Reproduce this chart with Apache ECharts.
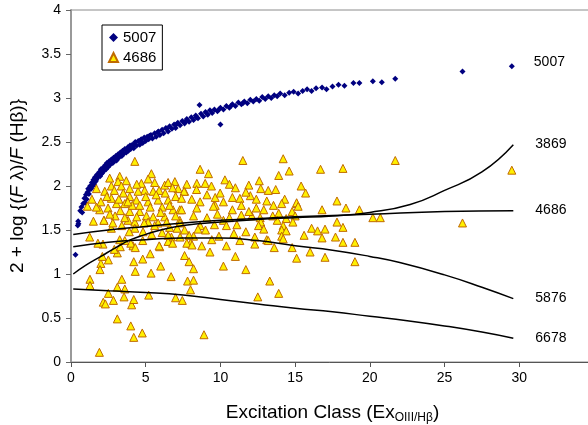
<!DOCTYPE html>
<html>
<head>
    <meta http-equiv="Content-Type" content="text/html; charset=utf-8"/>
    <style type="text/css">
        body, html {
            width: 100%;
            height: 100%;
            margin: 0;
            background: #fff;
        }
        #chart {
            width: 588px;
            height: 425px;
        }
    </style>
    <script src="https://cdn.jsdelivr.net/npm/echarts@6/dist/echarts.min.js"></script>
    <title>Excitation class</title>
</head>
<body>
<div id="chart"></div>
</body>
</html>
<script type="text/javascript">
    // x / y ticks
    var xTicks = [0, 5, 10, 15, 20, 25, 30, 35];
    var yTicks = [0, 0.5, 1, 1.5, 2, 2.5, 3, 3.5, 4];

    // [5007] points
    var pts5007 = [
        [0.3, 1.22], [0.45, 1.55], [0.48, 1.60], [0.5, 1.57], [0.62, 1.72], [0.7, 1.76], [0.75, 1.70], [0.82, 1.80],
        [0.9, 1.86], [0.95, 1.81], [1.0, 1.90], [1.05, 1.85], [1.1, 1.93], [1.15, 1.97], [1.2, 1.91], [1.28, 2.00],
        [1.35, 1.97], [1.4, 2.04], [1.45, 2.00], [1.5, 2.07], [1.55, 2.02], [1.6, 2.10], [1.7, 2.07], [1.75, 2.13],
        [1.8, 2.10], [1.9, 2.16], [1.95, 2.11], [2.0, 2.19], [2.1, 2.15], [2.15, 2.21], [2.2, 2.17], [2.3, 2.24],
        [2.35, 2.19], [2.4, 2.26], [2.5, 2.22], [2.55, 2.28], [2.6, 2.24], [2.7, 2.30], [2.8, 2.26], [2.85, 2.32],
        [2.9, 2.28], [3.0, 2.34], [3.05, 2.29], [3.15, 2.36], [3.2, 2.32], [3.3, 2.38], [3.4, 2.34], [3.45, 2.40],
        [3.5, 2.36], [3.6, 2.42], [3.7, 2.38], [3.8, 2.44], [3.85, 2.40], [3.95, 2.46], [4.0, 2.42], [4.1, 2.47],
        [4.2, 2.43], [4.3, 2.50], [4.4, 2.46], [4.5, 2.51], [4.6, 2.47], [4.7, 2.53], [4.8, 2.49], [4.9, 2.55],
        [5.0, 2.51], [5.1, 2.56], [5.2, 2.53], [5.35, 2.58], [5.45, 2.54], [5.6, 2.60], [5.7, 2.56], [5.85, 2.62],
        [5.95, 2.58], [6.1, 2.64], [6.2, 2.60], [6.35, 2.66], [6.5, 2.62], [6.6, 2.68], [6.75, 2.65], [6.9, 2.70],
        [7.0, 2.66], [7.15, 2.72], [7.3, 2.69], [7.45, 2.74], [7.6, 2.71], [7.75, 2.76], [7.9, 2.73], [8.05, 2.78],
        [8.2, 2.75], [8.35, 2.80], [8.5, 2.77], [8.6, 2.92], [8.7, 2.82], [8.85, 2.79], [9.0, 2.84], [9.15, 2.81],
        [9.3, 2.86], [9.45, 2.83], [9.6, 2.87], [9.8, 2.85], [10.0, 2.70], [10.0, 2.89], [10.2, 2.87], [10.4, 2.91],
        [10.6, 2.89], [10.8, 2.93], [11.0, 2.91], [11.2, 2.95], [11.4, 2.93], [11.6, 2.96], [11.8, 2.94], [12.0, 2.98],
        [12.2, 2.96], [12.4, 2.99], [12.6, 2.97], [12.8, 3.01], [13.0, 2.99], [13.2, 3.02], [13.4, 3.00], [13.6, 3.03],
        [13.8, 3.02], [14.0, 3.05], [14.3, 3.03], [14.6, 3.06], [14.9, 3.07], [15.2, 3.05], [15.5, 3.08], [15.8, 3.10],
        [16.1, 3.08], [16.4, 3.11], [16.8, 3.12], [17.1, 3.10], [17.5, 3.13], [17.9, 3.15], [18.3, 3.14], [18.9, 3.17],
        [19.3, 3.17], [20.2, 3.19], [20.8, 3.18], [21.7, 3.22], [26.2, 3.30],
        [1.25, 1.96], [1.65, 2.05], [2.05, 2.14], [2.45, 2.22], [2.95, 2.30], [3.35, 2.36], [3.75, 2.41], [4.25, 2.47],
        [4.65, 2.52], [5.25, 2.57], [5.8, 2.61], [6.4, 2.65], [7.05, 2.70], [7.7, 2.74], [8.4, 2.78], [9.1, 2.82],
        [9.9, 2.87], [10.7, 2.91], [11.5, 2.94]
    ];
    var last5007 = [29.5, 3.36];

    // [4686] points
    var pts4686 = [
        [4.27, 2.28], [5.38, 2.14], [3.26, 2.11], [2.59, 2.09], [3.15, 2.05], [2.7, 2.00], [3.37, 2.00], [1.7, 1.97],
        [2.26, 1.94], [3.93, 1.97], [4.71, 2.03], [5.16, 2.08], [5.6, 2.04], [4.93, 1.95], [5.5, 1.94], [4.49, 1.94],
        [6.27, 2.01], [6.5, 2.04], [6.95, 2.05], [7.17, 1.97], [7.6, 1.94], [6.5, 1.84], [5.83, 1.84], [5.16, 1.82],
        [4.38, 1.84], [3.93, 1.88], [3.6, 1.80], [3.04, 1.80], [2.7, 1.86], [2.48, 1.75], [1.92, 1.73], [1.1, 1.77],
        [2.21, 1.61], [3.93, 1.71], [4.6, 1.71], [5.05, 1.66], [5.5, 1.65], [6.27, 1.65], [6.83, 1.73], [7.28, 1.73],
        [3.82, 1.61], [4.27, 1.59], [5.16, 1.59], [5.83, 1.58], [7.28, 1.61], [2.7, 1.52], [4.27, 1.52], [4.82, 1.48],
        [1.25, 1.42], [2.14, 1.34], [3.26, 1.39], [4.15, 1.32], [5.94, 1.31], [6.72, 1.42], [6.5, 1.37], [1.7, 1.76],
        [3.5, 1.92], [4.1, 1.78], [5.9, 1.95], [6.1, 1.76], [2.95, 1.66], [3.4, 1.55], [6.6, 1.53], [7.0, 1.88],
        [1.9, 0.11], [1.27, 0.94], [1.27, 0.87], [2.16, 0.68], [2.3, 0.66], [2.84, 0.70], [3.1, 0.85], [2.5, 0.78],
        [3.4, 0.94], [3.55, 0.74], [3.6, 0.83], [4.06, 0.65], [4.2, 0.71], [3.1, 0.49], [4.0, 0.41], [4.2, 0.28],
        [4.77, 0.33], [5.2, 0.76], [7.45, 0.70], [4.2, 1.14], [4.3, 1.03], [4.8, 1.17], [5.36, 1.01], [6.0, 1.09],
        [6.7, 0.97], [5.3, 1.23], [5.9, 1.32], [7.6, 1.21], [7.9, 1.14], [8.2, 1.06], [7.8, 0.92], [8.2, 0.93],
        [8.0, 0.82], [2.0, 1.12], [1.94, 1.05], [2.1, 1.20], [2.5, 1.16], [3.1, 1.24], [2.9, 1.28], [3.3, 1.31],
        [1.8, 1.35], [4.0, 1.35], [4.3, 1.30], [3.6, 1.38], [4.8, 1.38], [6.5, 1.44], [6.8, 1.35], [7.3, 1.42],
        [8.2, 1.43], [8.0, 1.35], [2.2, 1.61], [11.5, 2.29], [14.2, 2.31], [8.64, 2.19], [9.2, 2.14], [13.9, 2.12],
        [14.6, 2.17], [7.75, 2.02], [8.42, 2.03], [8.98, 2.03], [10.3, 2.07], [11.0, 1.98], [11.9, 2.01], [12.7, 1.97],
        [13.2, 1.95], [13.7, 1.96], [7.57, 1.94], [8.4, 1.96], [9.1, 1.90], [9.65, 1.87], [9.98, 1.92], [10.8, 1.87],
        [11.3, 1.86], [12.0, 1.89], [12.4, 1.85], [14.3, 1.85], [15.1, 1.80], [8.08, 1.85], [8.64, 1.82], [10.2, 1.82],
        [9.65, 1.78], [13.55, 1.78], [14.1, 1.80], [7.4, 1.73], [8.42, 1.75], [9.53, 1.77], [10.8, 1.73], [11.4, 1.78],
        [12.4, 1.75], [12.9, 1.73], [13.9, 1.69], [14.8, 1.71], [8.2, 1.66], [9.1, 1.64], [11.4, 1.67], [12.1, 1.66],
        [12.66, 1.64], [14.4, 1.63], [15.0, 1.66], [10.2, 1.61], [7.3, 1.58], [8.64, 1.55], [13.8, 1.61], [14.2, 1.55],
        [12.7, 1.59], [12.55, 1.55], [8.5, 1.51], [9.0, 1.50], [10.4, 1.55], [10.9, 1.46], [14.1, 1.50], [14.4, 1.49],
        [14.1, 1.43], [7.9, 1.44], [9.42, 1.39], [12.3, 1.42], [13.1, 1.39], [14.2, 1.40], [7.75, 1.35], [8.1, 1.33],
        [8.75, 1.32], [10.4, 1.32], [12.3, 1.34], [13.2, 1.38], [14.8, 1.30], [21.7, 2.29], [16.7, 2.19], [18.2, 2.20],
        [15.4, 2.00], [15.7, 1.92], [15.1, 1.81], [15.2, 1.77], [17.8, 1.83], [18.4, 1.75], [16.8, 1.73], [19.3, 1.73],
        [20.2, 1.64], [20.7, 1.64], [17.8, 1.59], [14.85, 1.59], [16.1, 1.52], [16.5, 1.49], [17.0, 1.51], [18.2, 1.53],
        [15.6, 1.44], [16.8, 1.41], [17.7, 1.42], [18.2, 1.36], [19.0, 1.36], [10.2, 1.09], [11.7, 1.05], [12.5, 0.74],
        [13.3, 0.92], [13.9, 0.78], [15.1, 1.18], [17.0, 1.19], [19.0, 1.14], [7.0, 0.73], [8.9, 0.31], [9.3, 1.25],
        [11.0, 1.20], [16.0, 1.25], [26.2, 1.58], [29.5, 2.18],
        [2.9, 1.95], [3.7, 2.06], [4.4, 2.02], [5.0, 1.88], [5.7, 1.90], [6.3, 1.92], [6.8, 1.98], [7.4, 1.86],
        [2.4, 1.88], [3.2, 1.85], [3.8, 1.82], [4.6, 1.78], [5.3, 1.76], [6.0, 1.70], [6.6, 1.78], [7.0, 1.66],
        [2.6, 1.68], [3.3, 1.72], [3.6, 1.64], [4.4, 1.65], [4.9, 1.58], [5.6, 1.55], [6.4, 1.59], [7.1, 1.52],
        [1.5, 1.60], [1.4, 1.85], [2.0, 1.82], [2.8, 1.58], [3.9, 1.48], [5.4, 1.45], [6.1, 1.47], [7.6, 1.50],
        [9.8, 1.68], [10.6, 1.64], [11.1, 1.56], [11.7, 1.48], [12.9, 1.51], [13.5, 1.66], [9.4, 2.00], [10.6, 2.02],
        [11.7, 1.93], [12.6, 2.06], [13.1, 1.83], [9.9, 1.43], [11.3, 1.38], [13.6, 1.30], [9.6, 1.56], [11.9, 1.71]
    ];

    // fitted curves
    var fit3869 = [[0.15, 1.0], [1, 1.1], [2, 1.2], [3, 1.3], [4, 1.39], [5, 1.45], [6, 1.5], [7.5, 1.55], [10, 1.59],
        [12.5, 1.62], [15, 1.64], [17.5, 1.66], [20, 1.7], [22.7, 1.79], [25, 1.95], [27.5, 2.16], [29.6, 2.47]];
    var fit4686 = [[0.15, 1.45], [2.5, 1.5], [5, 1.54], [7.5, 1.58], [10, 1.61], [12.5, 1.63], [15, 1.65], [20, 1.68],
        [25, 1.71], [29.6, 1.72]];
    var fit5876 = [[0.15, 1.31], [2.5, 1.36], [5, 1.39], [7.5, 1.41], [10, 1.41], [12.5, 1.38], [15, 1.32], [17.5, 1.27],
        [20, 1.2], [22, 1.13], [25, 0.99], [27.5, 0.85], [29.6, 0.72]];
    var fit6678 = [[0.15, 0.83], [2.5, 0.81], [5, 0.79], [7.5, 0.76], [10, 0.71], [12.5, 0.66], [15, 0.61], [17.5, 0.57],
        [20, 0.52], [22.5, 0.47], [25, 0.41], [27.5, 0.34], [29.6, 0.27]];

    var FONT = 'Liberation Sans';
    var myChart = echarts.init(document.getElementById('chart'));

    function fitLine(name, data) {
        return {
            name: 'fit' + name,
            type: 'line',
            data: data,
            smooth: true,
            symbol: 'none',
            silent: true,
            z: 5,
            lineStyle: {color: '#000', width: 1.5},
            endLabel: {
                show: true, formatter: name, distance: 22,
                fontFamily: FONT, fontSize: 14, color: '#000'
            }
        };
    }

    var option = {
        animation: false,
        textStyle: {fontFamily: FONT},
        grid: {
            left: 71, top: 10, bottom: 63, right: -6,
            outerBoundsMode: 'none',
            show: true, borderColor: '#8c8c8c', borderWidth: 1
        },
        legend: {
            data: ['5007', '4686'],
            orient: 'vertical',
            left: 102, top: 25,
            padding: [5, 6, 5, 6],
            itemGap: 5,
            itemWidth: 9, itemHeight: 9,
            borderColor: '#000', borderWidth: 1,
            backgroundColor: '#fff',
            textStyle: {fontFamily: FONT, fontSize: 15, color: '#000'}
        },
        xAxis: {
            type: 'value',
            min: xTicks[0], max: xTicks[xTicks.length - 1], interval: 5,
            splitLine: {show: false},
            axisLine: {lineStyle: {color: '#555', width: 1}},
            axisTick: {inside: false, length: 5, lineStyle: {color: '#555'}},
            axisLabel: {fontSize: 14, color: '#000', margin: 9, fontFamily: FONT, showMaxLabel: false},
            name: 'Excitation Class (Ex{sub|OIII/Hβ})',
            nameLocation: 'middle',
            nameGap: 40,
            nameTextStyle: {
                fontSize: 19, color: '#000', fontFamily: FONT,
                rich: {sub: {fontSize: 12, fontFamily: FONT, color: '#000', padding: [10, 0, 0, 0]}}
            }
        },
        yAxis: {
            type: 'value',
            min: yTicks[0], max: yTicks[yTicks.length - 1], interval: 0.5,
            splitLine: {show: false},
            axisLine: {show: true, lineStyle: {color: '#999', width: 2}},
            axisTick: {show: true, inside: false, length: 5, lineStyle: {color: '#666'}},
            axisLabel: {fontSize: 14, color: '#000', margin: 10, fontFamily: FONT},
            name: '2 + log {({it|F} λ)/{it|F} (Hβ)}',
            nameLocation: 'middle',
            nameRotate: 90,
            nameGap: 44,
            nameTextStyle: {
                fontSize: 19, color: '#000', fontFamily: FONT,
                rich: {it: {fontSize: 19, fontStyle: 'italic', fontFamily: FONT, color: '#000'}}
            }
        },
        series: [
            {
                name: '5007',
                type: 'scatter',
                symbol: 'diamond',
                symbolSize: 6,
                itemStyle: {color: '#000080', opacity: 1},
                data: pts5007.concat([last5007])
            },
            {
                name: '4686',
                type: 'scatter',
                symbol: 'triangle',
                symbolSize: 8,
                itemStyle: {color: '#FFF000', borderColor: '#C06A00', borderWidth: 1, opacity: 1},
                data: pts4686
            },
            {
                name: 'label5007',
                type: 'scatter',
                symbolSize: 0,
                silent: true,
                data: [last5007],
                label: {
                    show: true, position: 'right', distance: 22, formatter: '5007',
                    fontFamily: FONT, fontSize: 14, color: '#000', opacity: 1, offset: [0, -4]
                }
            },
            fitLine('3869', fit3869),
            fitLine('4686', fit4686),
            fitLine('5876', fit5876),
            fitLine('6678', fit6678)
        ]
    };
    myChart.setOption(option);
</script>
